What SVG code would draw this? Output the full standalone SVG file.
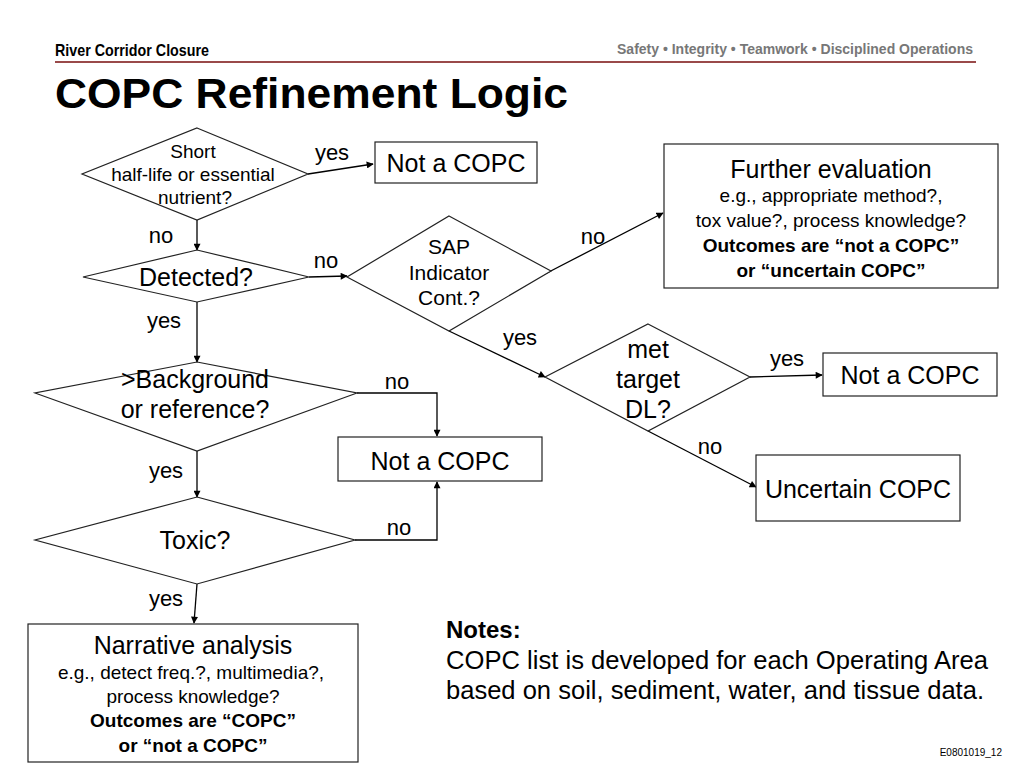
<svg xmlns="http://www.w3.org/2000/svg" width="1024" height="768" viewBox="0 0 1024 768">
<style>
text{font-family:"Liberation Sans",Arial,sans-serif;fill:#000}
.shape{fill:#fff;stroke:#222;stroke-width:1.2}
.c{text-anchor:middle}
.big{font-size:25px}
.med{font-size:21px}
.sm{font-size:19px}
.b{font-weight:bold}
.lbl{font-size:22px}
.conn{fill:none;stroke:#000;stroke-width:1.3;marker-end:url(#ah)}
</style>
<defs>
<marker id="ah" viewBox="0 0 10 10" refX="9" refY="5" markerWidth="8" markerHeight="7" markerUnits="userSpaceOnUse" orient="auto">
<path d="M0,0 L10,5 L0,10 z" fill="#000"/>
</marker>
</defs>
<rect width="1024" height="768" fill="#fff"/>
<g id="header">
<text x="55" y="56" font-size="17" font-weight="bold" textLength="154" lengthAdjust="spacingAndGlyphs">River Corridor Closure</text>
<text x="973" y="54" font-size="14" font-weight="bold" text-anchor="end" style="fill:#777">Safety • Integrity • Teamwork • Disciplined Operations</text>
<line x1="55" y1="62" x2="976" y2="62" stroke="#9a4a4a" stroke-width="2"/>
<text x="55" y="108" font-size="43" font-weight="bold" textLength="513" lengthAdjust="spacingAndGlyphs">COPC Refinement Logic</text>
</g>
<g id="connectors">
<path class="conn" d="M308,174 L373,164"/>
<path class="conn" d="M197,220 L197,250"/>
<path class="conn" d="M309,277 L347,276"/>
<path class="conn" d="M197,302 L197,362"/>
<path class="conn" d="M357,393 L437,393 L437,436"/>
<path class="conn" d="M197,451 L197,497"/>
<path class="conn" d="M355,540 L437,540 L437,482"/>
<path class="conn" d="M197,584 L194,623"/>
<path class="conn" d="M543,275 L663,213"/>
<path class="conn" d="M449,331 L545,377"/>
<path class="conn" d="M750,377 L822,375"/>
<path class="conn" d="M648,431 L756,487"/>
<text class="lbl c" x="332" y="160">yes</text>
<text class="lbl c" x="161" y="243">no</text>
<text class="lbl c" x="326" y="268">no</text>
<text class="lbl c" x="164" y="328">yes</text>
<text class="lbl c" x="397" y="389">no</text>
<text class="lbl c" x="166" y="478">yes</text>
<text class="lbl c" x="399" y="535">no</text>
<text class="lbl c" x="166" y="606">yes</text>
<text class="lbl c" x="593" y="244">no</text>
<text class="lbl c" x="520" y="345">yes</text>
<text class="lbl c" x="787" y="366">yes</text>
<text class="lbl c" x="710" y="454">no</text>
</g>
<g id="d-short">
<polygon class="shape" points="197,128 308,174 197,220 82,174"/>
<text class="sm c" x="193" y="158">Short</text>
<text class="sm c" x="193" y="181">half-life or essential</text>
<text class="sm c" x="195" y="204">nutrient?</text>
</g>
<g id="n-notcopc1">
<rect class="shape" x="375" y="142" width="162" height="41"/>
<text class="big c" x="456" y="172">Not a COPC</text>
</g>
<g id="d-detected">
<polygon class="shape" points="197,250 309,277 197,302 83,277"/>
<text class="big c" x="196" y="286">Detected?</text>
</g>
<g id="d-background">
<polygon class="shape" points="197,362 357,393 197,451 35,393"/>
<text class="big c" x="195" y="388">&gt;Background</text>
<text class="big c" x="195" y="418">or reference?</text>
</g>
<g id="n-notcopc2">
<rect class="shape" x="338" y="437" width="204" height="44"/>
<text class="big c" x="440" y="470">Not a COPC</text>
</g>
<g id="d-toxic">
<polygon class="shape" points="197,497 355,540 197,584 35,540"/>
<text class="big c" x="195" y="549">Toxic?</text>
</g>
<g id="n-narrative">
<rect class="shape" x="28" y="624" width="330" height="138"/>
<text class="big c" x="193" y="654">Narrative analysis</text>
<text class="sm c" x="191" y="679">e.g., detect freq.?, multimedia?,</text>
<text class="sm c" x="193" y="703">process knowledge?</text>
<text class="sm c b" x="193" y="727">Outcomes are “COPC”</text>
<text class="sm c b" x="193" y="752">or “not a COPC”</text>
</g>
<g id="d-sap">
<polygon class="shape" points="449,216 551,271 449,331 347,277"/>
<text class="med c" x="449" y="254">SAP</text>
<text class="med c" x="449" y="280">Indicator</text>
<text class="med c" x="449" y="305">Cont.?</text>
</g>
<g id="n-further">
<rect class="shape" x="664" y="144" width="334" height="144"/>
<text class="big c" x="831" y="178">Further evaluation</text>
<text class="sm c" x="831" y="202">e.g., appropriate method?,</text>
<text class="sm c" x="831" y="227">tox value?, process knowledge?</text>
<text class="sm c b" x="831" y="252">Outcomes are “not a COPC”</text>
<text class="sm c b" x="831" y="277">or “uncertain COPC”</text>
</g>
<g id="d-met">
<polygon class="shape" points="648,324 750,377 648,431 545,377"/>
<text class="big c" x="648" y="358">met</text>
<text class="big c" x="648" y="388">target</text>
<text class="big c" x="648" y="418">DL?</text>
</g>
<g id="n-notcopc3">
<rect class="shape" x="823" y="353" width="174" height="43"/>
<text class="big c" x="910" y="384">Not a COPC</text>
</g>
<g id="n-uncertain">
<rect class="shape" x="756" y="455" width="204" height="66"/>
<text class="big c" x="858" y="498">Uncertain COPC</text>
</g>
<g id="notes">
<text x="446" y="638" font-size="24" font-weight="bold">Notes:</text>
<text x="446" y="669" font-size="25" textLength="542" lengthAdjust="spacingAndGlyphs">COPC list is developed for each Operating Area</text>
<text x="446" y="699" font-size="25" textLength="538" lengthAdjust="spacingAndGlyphs">based on soil, sediment, water, and tissue data.</text>
<text x="1002" y="756" font-size="10" text-anchor="end">E0801019_12</text>
</g>
</svg>
